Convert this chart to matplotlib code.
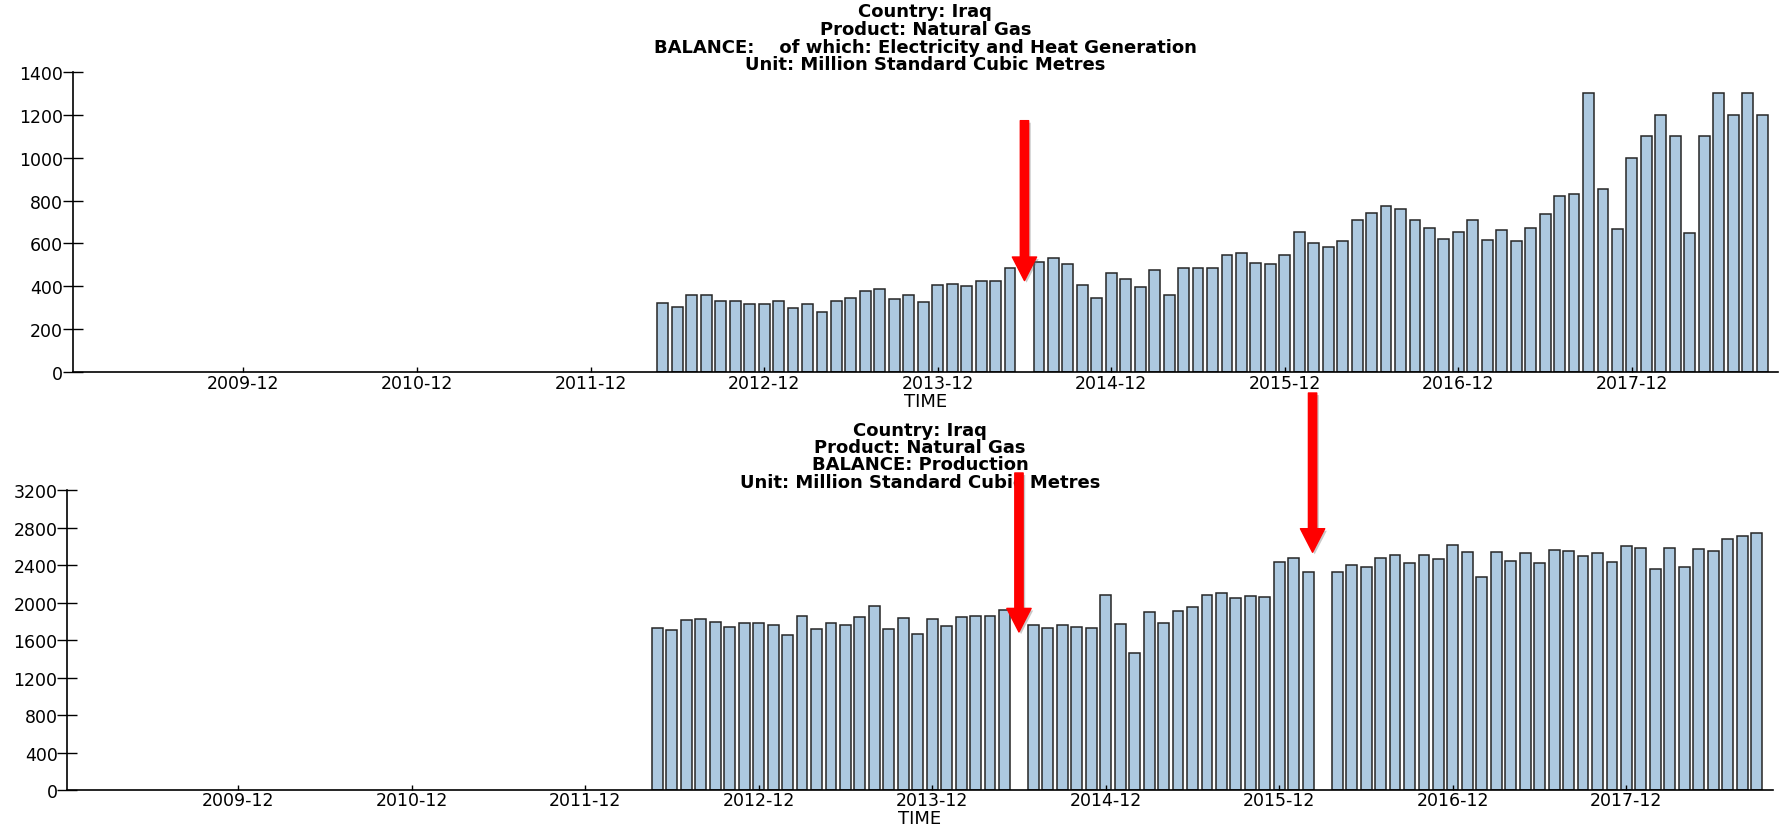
import numpy as np
import pandas as pd
import matplotlib
matplotlib.use('Agg')
import matplotlib.pyplot as plt
import matplotlib.patheffects as pe

plt.rcParams['font.family'] = ['DejaVu Sans']

# ------------------------------------------------------------------
#  DATA  (monthly, 2012-05 .. 2018-09, NaN = missing month)
# ------------------------------------------------------------------
AXIS_START = pd.Period('2008-12', freq='M')
months = pd.period_range('2012-05', '2018-09', freq='M')

elec_heat = [
    321, 303, 360, 360, 334, 331, 317, 320, 334, 300, 320, 280,
    331, 346, 377, 387, 340, 362, 329, 405, 410, 402, 424, 424,
    486, np.nan, 514, 531, 506, 405, 346, 461, 436, 396, 477, 359,
    484, 484, 484, 547, 557, 511, 506, 547, 655, 604, 582, 613,
    710, 744, 773, 759, 711, 671, 620, 652, 710, 616, 663, 612,
    674, 738, 820, 829, 1300, 852, 668, 1000, 1100, 1200, 1100, 648,
    1100, 1300, 1200, 1300, 1200,
]
production = [
    1727, 1712, 1816, 1830, 1791, 1737, 1784, 1787, 1759, 1652, 1855, 1720,
    1784, 1766, 1848, 1962, 1723, 1833, 1663, 1823, 1748, 1844, 1862, 1855,
    1919, np.nan, 1759, 1734, 1766, 1744, 1727, 2079, 1776, 1467, 1897, 1784,
    1908, 1954, 2079, 2107, 2047, 2068, 2061, 2431, 2478, 2325, np.nan, 2332,
    2403, 2385, 2478, 2513, 2428, 2513, 2464, 2620, 2538, 2278, 2538, 2442,
    2528, 2421, 2560, 2556, 2496, 2531, 2435, 2602, 2588, 2360, 2585, 2385,
    2570, 2556, 2677, 2716, 2745,
]

tick_labels = ['2009-12', '2010-12', '2011-12', '2012-12', '2013-12',
               '2014-12', '2015-12', '2016-12', '2017-12']

titles_top = ['Country: Iraq', 'Product: Natural Gas',
              'BALANCE:    of which: Electricity and Heat Generation',
              'Unit: Million Standard Cubic Metres']
titles_bot = ['Country: Iraq', 'Product: Natural Gas',
              'BALANCE: Production',
              'Unit: Million Standard Cubic Metres']

# ------------------------------------------------------------------
#  STYLE
# ------------------------------------------------------------------
BAR_COLOR = '#adc9e0'
EDGE_COLOR = '#262626'
W, H = 1781, 829
TICK_FS = 12.5
TITLE_FS = 13

x_pos = np.array([(m - AXIS_START).n for m in months])
tick_pos = [(pd.Period(t, freq='M') - AXIS_START).n for t in tick_labels]


def style_axes(ax, ymax, ystep, titles, title_y):
    ax.set_xlim(0.2, 118.1)
    ax.set_ylim(0, ymax)
    for s in ['top', 'right']:
        ax.spines[s].set_visible(False)
    for s in ['left', 'bottom']:
        ax.spines[s].set_linewidth(1.2)
        ax.spines[s].set_color('black')
    ax.set_yticks(np.arange(0, ymax + 1, ystep))
    ax.tick_params(axis='y', direction='inout', length=14, width=1.0,
                   pad=0, labelsize=TICK_FS)
    ax.set_xticks(tick_pos)
    ax.set_xticklabels(tick_labels)
    ax.tick_params(axis='x', direction='in', length=3.5, width=1.0,
                   pad=1.0, labelsize=TICK_FS)
    ax.set_xlabel('TIME', fontsize=TITLE_FS)
    ax.xaxis.label.set_va('center')
    for line, y in zip(titles, title_y):
        ax.text(0.5, y, line, transform=ax.transAxes, ha='center', va='center',
                fontsize=TITLE_FS, fontweight='bold', zorder=3)


def red_arrow(ax, x, y_top, y_tip):
    ann = ax.annotate('', xy=(x, y_tip), xytext=(x, y_top),
                      arrowprops=dict(arrowstyle='simple,head_length=1.7,head_width=1.75,tail_width=0.6',
                                      color='#ff0000', shrinkA=0, shrinkB=0,
                                      mutation_scale=10),
                      annotation_clip=False, zorder=6)
    ann.arrow_patch.set_path_effects([
        pe.SimplePatchShadow(offset=(1.5, -1.5), shadow_rgbFace='0.4', alpha=0.35),
        pe.Normal()])
    ann.arrow_patch.set_zorder(6)


fig = plt.figure(figsize=(W / 100, H / 100), dpi=100)

# top panel
ax1 = fig.add_axes([72.8 / W, (H - 373.3) / H, 1705.2 / W, 300.6 / H])
ax1.bar(x_pos, elec_heat, width=0.75, color=BAR_COLOR, edgecolor=EDGE_COLOR,
        linewidth=1.1)
style_axes(ax1, 1400, 200, titles_top, [1.2003, 1.1404, 1.0832, 1.0266])
ax1.xaxis.set_label_coords(0.5, -0.0945)

# bottom panel
ax2 = fig.add_axes([67.3 / W, (H - 791.0) / H, 1705.2 / W, 299.7 / H])
ax2.bar(x_pos, production, width=0.75, color=BAR_COLOR, edgecolor=EDGE_COLOR,
        linewidth=1.1)
style_axes(ax2, 3200, 400, titles_bot, [1.2012, 1.1445, 1.0861, 1.0277])
ax2.xaxis.set_label_coords(0.5, -0.0934)

# annotations: missing months
red_arrow(ax1, 66, 1172, 427)
red_arrow(ax2, 86.3, 4239, 2538)
red_arrow(ax2, 66, 3385, 1687)

fig.savefig('out.png', dpi=100)
